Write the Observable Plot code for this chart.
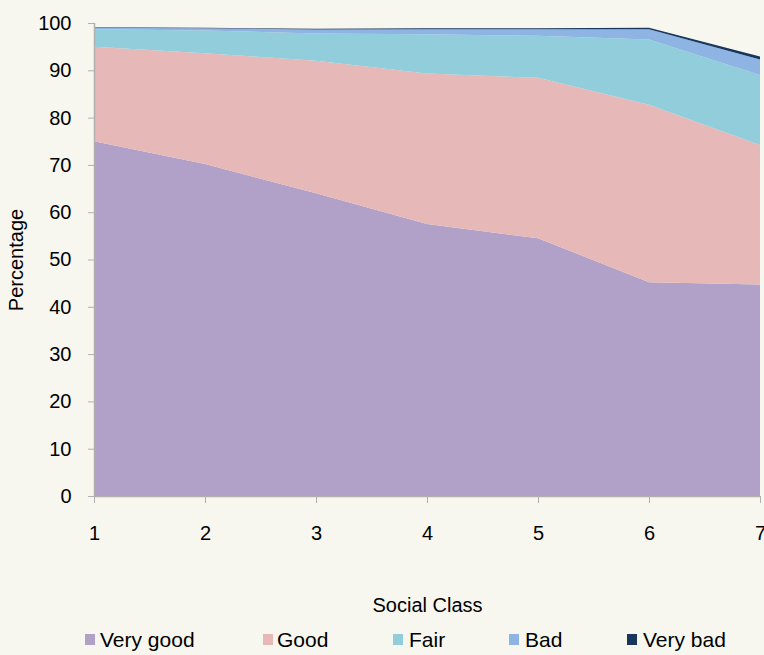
<!DOCTYPE html>
<html>
<head>
<meta charset="utf-8">
<script src="https://cdn.jsdelivr.net/npm/d3@7"></script>
<script src="https://cdn.jsdelivr.net/npm/@observablehq/plot@0.6"></script>
<style>
  html, body { margin: 0; padding: 0; background: #f7f7f0; }
  #wrap { position: relative; width: 764px; height: 655px; background: #f7f7f0; font-family: "Liberation Sans", Arial, sans-serif; overflow: hidden; }
  #chart svg { display: block; }
  .legtxt { position: absolute; top: 629px; font-size: 21px; color: #000; line-height: 21px; white-space: nowrap; }
  .legsw { position: absolute; top: 634px; width: 10px; height: 11px; }
</style>
</head>
<body>
<div id="wrap">
  <div id="chart"></div>
  <div id="legend"></div>
</div>
<script>
const classes = [1, 2, 3, 4, 5, 6, 7];
const seriesNames = ["Very good", "Good", "Fair", "Bad", "Very bad"];
const veryGood = [75.0, 70.2, 64.0, 57.5, 54.5, 45.2, 44.7];
const good     = [20.0, 23.4, 28.0, 31.8, 33.9, 37.5, 29.5];
const fair     = [3.7, 4.8, 5.8, 8.3, 8.9, 13.8, 14.8];
const bad      = [0.3, 0.5, 0.8, 1.1, 1.4, 2.2, 3.3];
const veryBad  = [0.1, 0.1, 0.2, 0.2, 0.2, 0.3, 0.6];
const colors = ["#b1a0c7", "#e6b8b7", "#92cddc", "#8db4e2", "#17375e"];
const yTicks = [0, 10, 20, 30, 40, 50, 60, 70, 80, 90, 100];

const seriesValues = [veryGood, good, fair, bad, veryBad];
const data = seriesNames.flatMap((s, i) =>
  classes.map((c, j) => ({ cls: c, series: s, value: seriesValues[i][j] }))
);

const axisGray = "#b0b0b0";

const chart = Plot.plot({
  width: 764,
  height: 620,
  marginLeft: 94,
  marginRight: 4,
  marginTop: 23,
  marginBottom: 124,
  style: { background: "transparent", fontFamily: "'Liberation Sans', Arial, sans-serif", fontSize: "20px", color: "#000", overflow: "visible" },
  x: { domain: [1, 7] },
  y: { domain: [0, 100] },
  color: { domain: seriesNames, range: colors },
  marks: [
    Plot.areaY(data, { x: "cls", y: "value", fill: "series", z: "series", order: seriesNames }),
    Plot.ruleX([1], { stroke: axisGray, strokeWidth: 1.5 }),
    Plot.ruleY([0], { stroke: axisGray, strokeWidth: 1.5 }),
    Plot.axisY({ ticks: yTicks, tickSize: 6, tickPadding: 17, stroke: axisGray, fill: "#000", fontSize: 20,
      label: "Percentage", labelAnchor: "center", labelArrow: "none", labelOffset: 85.5 }),
    Plot.axisX({ ticks: classes, tickFormat: d3.format("d"), tickSize: 7, tickPadding: 22, stroke: axisGray, fill: "#000", fontSize: 20,
      label: "Social Class", labelAnchor: "center", labelArrow: "none", labelOffset: 115 })
  ]
});
document.getElementById("chart").appendChild(chart);

const legendSwatchX = [85, 263, 393, 509, 627];
const legendTextX = [100, 277, 409, 525, 643];
const legend = document.getElementById("legend");
seriesNames.forEach((s, i) => {
  const sw = document.createElement("div");
  sw.className = "legsw";
  sw.style.left = legendSwatchX[i] + "px";
  sw.style.background = colors[i];
  legend.appendChild(sw);
  const t = document.createElement("div");
  t.className = "legtxt";
  t.style.left = legendTextX[i] + "px";
  t.textContent = s;
  legend.appendChild(t);
});
</script>
</body>
</html>
